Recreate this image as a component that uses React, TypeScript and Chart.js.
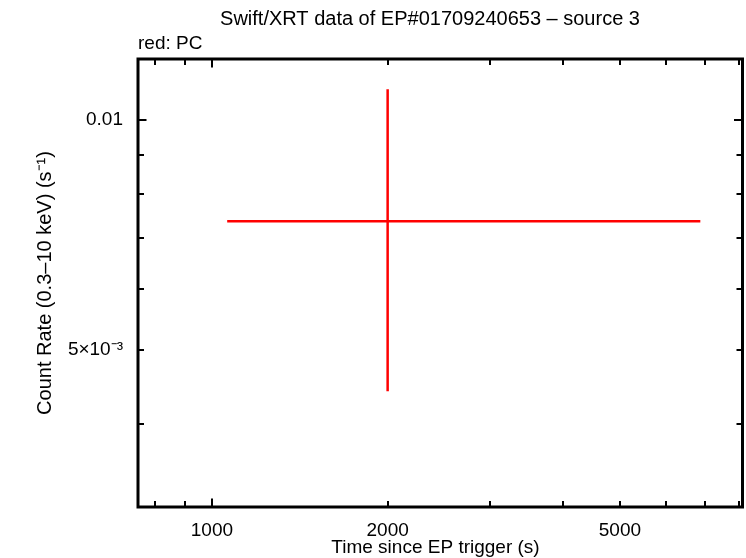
import React, { useEffect, useRef } from "react";
import { Chart, registerables } from "chart.js";
Chart.register(...registerables);

// Data
const times = [2000];
const timeLow = [1062];
const timeHigh = [6867];
const rates = [0.00737];
const rateLow = [0.00441];
const rateHigh = [0.01098];

// Axis ranges and ticks
const xRange = [747, 8110];
const yRange = [0.00311, 0.01203];
const xTickValues = [1000, 2000, 5000];
const xTickText = ["1000", "2000", "5000"];
const yTickValues = [0.005, 0.01];
const yTickText = ["5×10⁻³", "0.01"];
const xMajorTicks = [1000];
const xMinorTicks = [800, 900, 2000, 3000, 4000, 5000, 6000, 7000, 8000];
const yMajorTicks = [0.01];
const yMinorTicks = [0.004, 0.005, 0.006, 0.007, 0.008, 0.009];

const titleText = "Swift/XRT data of EP#01709240653 – source 3";
const subText = "red: PC";
const xTitle = "Time since EP trigger (s)";
const yTitle = "Count Rate (0.3–10 keV) (s⁻¹)";

const FONT = "'Liberation Sans', Arial, Helvetica, sans-serif";
const RED = "#ff0000";

const framePlugin = {
  id: "framePlugin",
  afterDraw(chart: any) {
    const { ctx, chartArea } = chart;
    const { left, right, top, bottom } = chartArea;
    const xs = chart.scales.x;
    const ys = chart.scales.y;
    ctx.save();
    ctx.strokeStyle = "#000";
    ctx.lineWidth = 3;
    ctx.strokeRect(left, top, right - left, bottom - top);
    ctx.lineWidth = 2;
    const major = 8.5;
    const minor = 6;
    const drawX = (vals: number[], len: number) => {
      vals.forEach((v) => {
        const px = Math.round(xs.getPixelForValue(v));
        ctx.beginPath();
        ctx.moveTo(px, bottom);
        ctx.lineTo(px, bottom - len);
        ctx.moveTo(px, top);
        ctx.lineTo(px, top + len);
        ctx.stroke();
      });
    };
    const drawY = (vals: number[], len: number) => {
      vals.forEach((v) => {
        const py = Math.round(ys.getPixelForValue(v));
        ctx.beginPath();
        ctx.moveTo(left, py);
        ctx.lineTo(left + len, py);
        ctx.moveTo(right, py);
        ctx.lineTo(right - len, py);
        ctx.stroke();
      });
    };
    drawX(xMajorTicks, major);
    drawX(xMinorTicks, minor);
    drawY(yMajorTicks, major);
    drawY(yMinorTicks, minor);

    ctx.fillStyle = "#000";
    ctx.textBaseline = "alphabetic";
    ctx.font = `20px ${FONT}`;
    ctx.textAlign = "center";
    ctx.fillText(titleText, 430, 25);
    ctx.font = `19px ${FONT}`;
    ctx.textAlign = "left";
    ctx.fillText(subText, 138, 49);
    ctx.textAlign = "center";
    ctx.fillText(xTitle, 435.5, 553);
    ctx.save();
    ctx.font = `20px ${FONT}`;
    ctx.translate(51, 283);
    ctx.rotate(-Math.PI / 2);
    ctx.fillText(yTitle, 0, 0);
    ctx.restore();
    ctx.restore();
  },
};

export default function App() {
  const ref = useRef<HTMLCanvasElement | null>(null);
  useEffect(() => {
    if (!ref.current) return;
    const datasets: any[] = [];
    times.forEach((t, i) => {
      datasets.push({
        data: [
          { x: timeLow[i], y: rates[i] },
          { x: timeHigh[i], y: rates[i] },
        ],
        borderColor: RED,
        borderWidth: 2.5,
        pointRadius: 0,
        showLine: true,
        fill: false,
      });
      datasets.push({
        data: [
          { x: t, y: rateLow[i] },
          { x: t, y: rateHigh[i] },
        ],
        borderColor: RED,
        borderWidth: 2.5,
        pointRadius: 0,
        showLine: true,
        fill: false,
      });
    });
    const chart = new Chart(ref.current, {
      type: "line",
      data: { datasets },
      options: {
        responsive: false,
        animation: false,
        devicePixelRatio: 1,
        layout: { padding: { top: 59, right: 3.5, left: 0, bottom: 0 } },
        plugins: { legend: { display: false }, tooltip: { enabled: false }, title: { display: false } },
        scales: {
          x: {
            type: "logarithmic",
            min: xRange[0],
            max: xRange[1],
            grid: { display: false, drawTicks: false },
            border: { display: false },
            ticks: {
              autoSkip: false,
              maxRotation: 0,
              minRotation: 0,
              padding: 12,
              color: "#000",
              font: { family: FONT, size: 19 },
              callback: (v: any) => {
                const idx = xTickValues.indexOf(Number(v));
                return idx >= 0 ? xTickText[idx] : "";
              },
            },
            afterBuildTicks: (s: any) => {
              s.ticks = xTickValues.map((v) => ({ value: v }));
            },
            afterFit: (s: any) => {
              s.height = 51;
            },
          },
          y: {
            type: "logarithmic",
            min: yRange[0],
            max: yRange[1],
            grid: { display: false, drawTicks: false },
            border: { display: false },
            ticks: {
              autoSkip: false,
              padding: 15,
              color: "#000",
              font: { family: FONT, size: 19 },
              callback: (v: any) => {
                const idx = yTickValues.findIndex((t) => Math.abs(t - Number(v)) < 1e-9);
                return idx >= 0 ? yTickText[idx] : "";
              },
            },
            afterBuildTicks: (s: any) => {
              s.ticks = yTickValues.map((v) => ({ value: v }));
            },
            afterFit: (s: any) => {
              s.width = 138;
            },
          },
        },
      },
      plugins: [framePlugin],
    });
    return () => chart.destroy();
  }, []);
  return (
    <div style={{ position: "fixed", left: 0, top: 0, width: 746, height: 558, background: "#fff" }}>
      <canvas ref={ref} width={746} height={558} style={{ display: "block", width: 746, height: 558 }} />
    </div>
  );
}
